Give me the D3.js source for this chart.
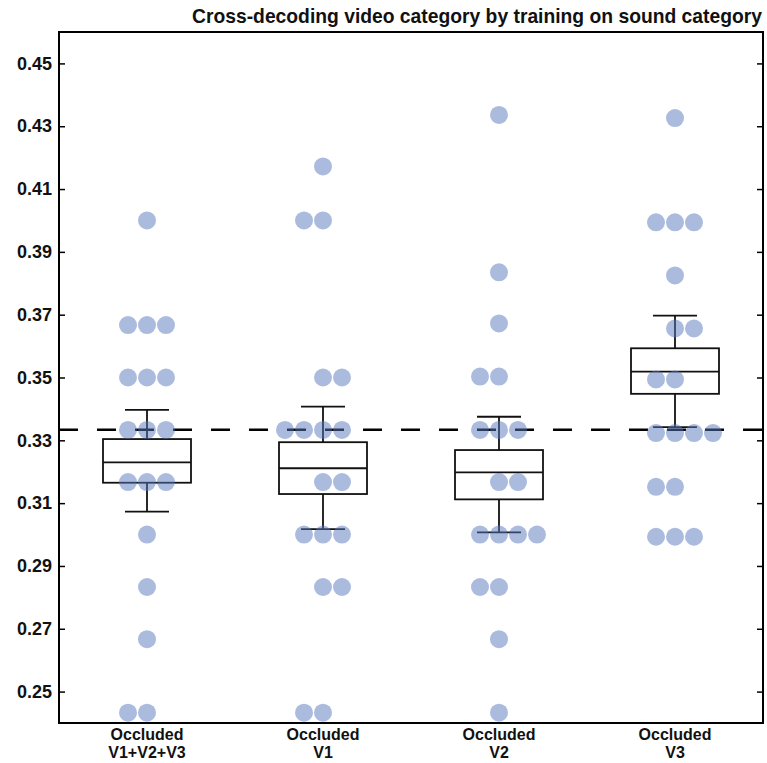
<!DOCTYPE html>
<html>
<head>
<meta charset="utf-8">
<script src="https://cdn.jsdelivr.net/npm/d3@7"></script>
<style>
  body { margin: 0; background: #fff; }
  text { font-family: "Liberation Sans", Arial, sans-serif; font-weight: bold; fill: #111; }
</style>
</head>
<body>
<div id="my_plot"></div>
<script>
var width = 767, height = 763;

// groups and their two-line labels
var groups = ["v123", "v1", "v2", "v3"];
var labelTop = ["Occluded", "Occluded", "Occluded", "Occluded"];
var labelBottom = ["V1+V2+V3", "V1", "V2", "V3"];
var yTicks = [0.25, 0.27, 0.29, 0.31, 0.33, 0.35, 0.37, 0.39, 0.41, 0.43, 0.45];
var chance = 1 / 3;

// subject accuracies, one per dot (18 per group)
var valuesV123 = [0.4, 0.3667, 0.3667, 0.3667, 0.35, 0.35, 0.35, 0.3333, 0.3333, 0.3333,
  0.3167, 0.3167, 0.3167, 0.3, 0.2833, 0.2667, 0.2433, 0.2433];
var valuesV1 = [0.4172, 0.4, 0.4, 0.35, 0.35, 0.3333, 0.3333, 0.3333, 0.3333,
  0.3167, 0.3167, 0.3, 0.3, 0.3, 0.2833, 0.2833, 0.2433, 0.2433];
var valuesV2 = [0.4336, 0.3835, 0.3672, 0.3503, 0.3503, 0.3333, 0.3333, 0.3333,
  0.3167, 0.3167, 0.3, 0.3, 0.3, 0.3, 0.2833, 0.2833, 0.2667, 0.2433];
var valuesV3 = [0.4326, 0.3994, 0.3994, 0.3994, 0.3825, 0.3656, 0.3656, 0.3494, 0.3494,
  0.3323, 0.3323, 0.3323, 0.3323, 0.3152, 0.3152, 0.2993, 0.2993, 0.2993];

// swarm column of each dot (0 = centre)
var slotsV123 = [0, -1, 0, 1, -1, 0, 1, -1, 0, 1, -1, 0, 1, 0, 0, 0, -1, 0];
var slotsV1 = [0, -1, 0, 0, 1, -2, -1, 0, 1, 0, 1, -1, 0, 1, 0, 1, -1, 0];
var slotsV2 = [0, 0, 0, -1, 0, -1, 0, 1, 0, 1, -1, 0, 1, 2, -1, 0, 0, 0];
var slotsV3 = [0, -1, 0, 1, 0, 0, 1, -1, 0, -1, 0, 1, 2, -1, 0, -1, 0, 1];

// box summary: lower whisker, box bottom, middle, box top, upper whisker
var whiskerLow = [0.3073, 0.3017, 0.3007, 0.3342];
var boxLow = [0.3165, 0.3129, 0.3112, 0.3448];
var boxMid = [0.3230, 0.3211, 0.3198, 0.3519];
var boxHigh = [0.3304, 0.3294, 0.3269, 0.3593];
var whiskerHigh = [0.3397, 0.3407, 0.3375, 0.3697];

var allValues = [valuesV123, valuesV1, valuesV2, valuesV3];
var allSlots = [slotsV123, slotsV1, slotsV2, slotsV3];

var plotLeft = 59, plotRight = 763, plotTop = 32, plotBottom = 723;

var svg = d3.select("#my_plot")
  .append("svg")
    .attr("width", width)
    .attr("height", height);

var x = d3.scalePoint()
  .domain(groups)
  .range([plotLeft, plotRight])
  .padding(0.5);

var y = d3.scaleLinear()
  .domain([0.24, 0.46])
  .range([plotBottom, plotTop]);

// dot size and swarm step
var r = 9;
var slot = d3.scaleLinear().domain([0, 1]).range([0, 19]);

// title
svg.append("text")
  .attr("x", 762)
  .attr("y", 23)
  .attr("text-anchor", "end")
  .style("font-size", "19.3px")
  .text("Cross-decoding video category by training on sound category");

// chance line
svg.append("line")
  .attr("x1", plotLeft).attr("x2", plotRight)
  .attr("y1", y(chance)).attr("y2", y(chance))
  .attr("stroke", "#000")
  .attr("stroke-width", 2.5)
  .attr("stroke-dasharray", "19,19");

// boxes
var boxW = 88, capW = 44;
var boxes = svg.append("g")
  .attr("fill", "none")
  .attr("stroke", "#111")
  .attr("stroke-width", 1.8);

groups.forEach(function(g, i) {
  var cx = x(g);
  boxes.append("rect")
    .attr("x", cx - boxW / 2)
    .attr("y", y(boxHigh[i]))
    .attr("width", boxW)
    .attr("height", y(boxLow[i]) - y(boxHigh[i]));
  boxes.append("line")
    .attr("x1", cx - boxW / 2).attr("x2", cx + boxW / 2)
    .attr("y1", y(boxMid[i])).attr("y2", y(boxMid[i]));
  // whiskers
  boxes.append("line")
    .attr("x1", cx).attr("x2", cx)
    .attr("y1", y(boxHigh[i])).attr("y2", y(whiskerHigh[i]));
  boxes.append("line")
    .attr("x1", cx).attr("x2", cx)
    .attr("y1", y(boxLow[i])).attr("y2", y(whiskerLow[i]));
  boxes.append("line")
    .attr("x1", cx - capW / 2).attr("x2", cx + capW / 2)
    .attr("y1", y(whiskerHigh[i])).attr("y2", y(whiskerHigh[i]));
  boxes.append("line")
    .attr("x1", cx - capW / 2).attr("x2", cx + capW / 2)
    .attr("y1", y(whiskerLow[i])).attr("y2", y(whiskerLow[i]));
});

// dots
groups.forEach(function(g, i) {
  var pts = allValues[i].map(function(v, j) { return { v: v, s: allSlots[i][j] }; });
  svg.append("g")
    .selectAll("circle")
    .data(pts)
    .enter()
    .append("circle")
      .attr("cx", function(d) { return x(g) + slot(d.s); })
      .attr("cy", function(d) { return y(d.v); })
      .attr("r", r)
      .style("fill", "#5577bb")
      .style("fill-opacity", 0.5);
});

// frame
svg.append("rect")
  .attr("x", plotLeft).attr("y", plotTop)
  .attr("width", plotRight - plotLeft).attr("height", plotBottom - plotTop)
  .attr("fill", "none")
  .attr("stroke", "#000")
  .attr("stroke-width", 2);

// y axis, ticks pointing in
var yAxis = svg.append("g")
  .attr("transform", "translate(" + plotLeft + ",0)")
  .call(d3.axisLeft(y).tickValues(yTicks).tickSizeInner(-6).tickSizeOuter(0).tickPadding(7).tickFormat(d3.format(".2f")));
yAxis.select(".domain").remove();
yAxis.selectAll("line").attr("stroke", "#000").attr("stroke-width", 1.5);
yAxis.selectAll("text")
  .style("font-family", "'Liberation Sans', Arial, sans-serif")
  .style("font-size", "18px")
  .style("font-weight", "bold")
  .style("fill", "#111");

var yAxisR = svg.append("g")
  .attr("transform", "translate(" + plotRight + ",0)")
  .call(d3.axisRight(y).tickValues(yTicks).tickSizeInner(-6).tickSizeOuter(0).tickFormat(""));
yAxisR.select(".domain").remove();
yAxisR.selectAll("line").attr("stroke", "#000").attr("stroke-width", 1.5);

// x labels
var xl = svg.append("g").style("font-size", "16px").attr("text-anchor", "middle");
groups.forEach(function(g, i) {
  xl.append("text").attr("x", x(g)).attr("y", 740).text(labelTop[i]);
  xl.append("text").attr("x", x(g)).attr("y", 758).text(labelBottom[i]);
});
</script>
</body>
</html>
